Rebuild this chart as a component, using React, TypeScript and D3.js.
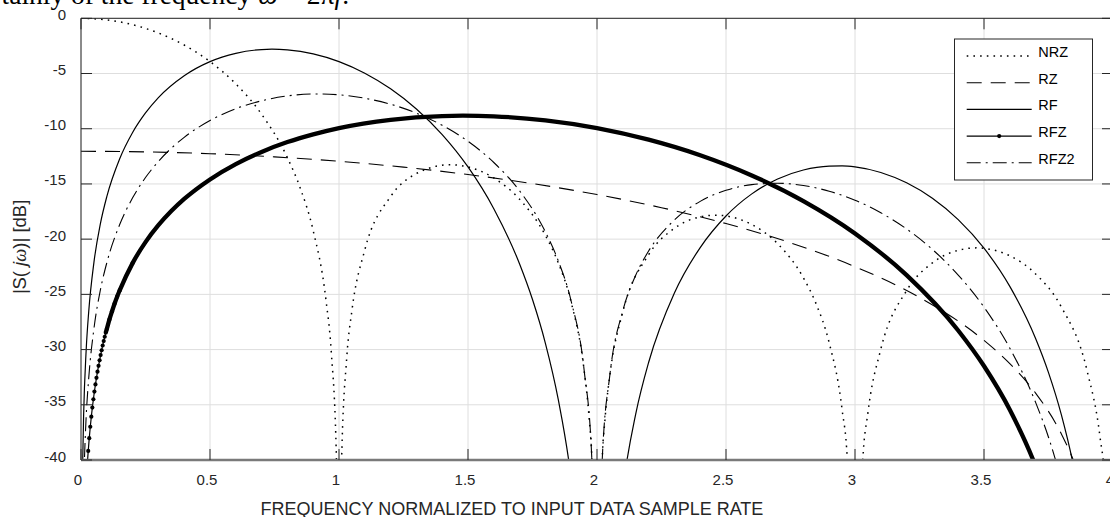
import React from 'react';
import * as d3 from 'd3';

// ---- data (frequency normalized, magnitude in dB) ----
const xTicks = [0, 0.5, 1, 1.5, 2, 2.5, 3, 3.5, 4];
const xTickLabels = ['0', '0.5', '1', '1.5', '2', '2.5', '3', '3.5', '4'];
const yTicks = [0, -5, -10, -15, -20, -25, -30, -35, -40];
const yTickLabels = ['0', '-5', '-10', '-15', '-20', '-25', '-30', '-35', '-40'];
const seriesNames = ['NRZ', 'RZ', 'RF', 'RFZ', 'RFZ2'];

const nrzFreq = [0, 0.1, 0.2, 0.3, 0.4, 0.5, 0.6, 0.7, 0.8, 0.85, 0.9, 0.95, 0.97, 0.99, 1.0, 1.01, 1.03, 1.05, 1.1, 1.2, 1.3, 1.43, 1.5, 1.6, 1.7, 1.8, 1.85, 1.9, 1.95, 1.97, 1.98, 2.0, 2.02, 2.03, 2.05, 2.1, 2.2, 2.3, 2.4, 2.46, 2.6, 2.7, 2.8, 2.85, 2.9, 2.95, 2.97, 3.0, 3.03, 3.05, 3.1, 3.2, 3.3, 3.4, 3.47, 3.6, 3.7, 3.8, 3.9, 3.95, 3.97, 4.0];
const nrzDb = [0, -0.14, -0.58, -1.33, -2.42, -3.92, -5.94, -8.69, -12.62, -15.39, -19.23, -25.61, -30.2, -39.9, -70, -40.1, -30.73, -26.48, -20.97, -16.14, -14.06, -13.26, -13.46, -14.46, -16.39, -19.66, -22.15, -25.72, -31.86, -36.36, -39.9, -70, -40.1, -36.6, -32.29, -26.59, -21.41, -19.02, -17.98, -17.83, -18.68, -20.41, -23.5, -25.9, -29.39, -35.45, -39.92, -70, -40.1, -35.74, -29.97, -24.66, -22.15, -21.01, -20.79, -21.51, -23.15, -26.15, -31.96, -37.99, -42.4, -70];

const rzFreq = [0, 0.25, 0.5, 0.75, 1, 1.25, 1.5, 1.75, 2, 2.25, 2.5, 2.75, 3, 3.25, 3.5, 3.6, 3.7, 3.8, 3.85, 3.9];
const rzDb = [-12.04, -12.1, -12.26, -12.55, -12.95, -13.48, -14.15, -14.97, -15.96, -17.15, -18.59, -20.33, -22.49, -25.28, -29.17, -31.27, -33.94, -37.65, -40.25, -43.87];

const rfFreq = [0.005, 0.01, 0.02, 0.03, 0.05, 0.075, 0.1, 0.15, 0.2, 0.25, 0.3, 0.4, 0.5, 0.6, 0.7, 0.74, 0.8, 0.9, 1.0, 1.1, 1.2, 1.3, 1.4, 1.5, 1.6, 1.7, 1.75, 1.8, 1.85, 1.9, 1.95, 2.0, 2.05, 2.1, 2.15, 2.2, 2.3, 2.4, 2.5, 2.6, 2.7, 2.8, 2.9, 2.95, 3.0, 3.1, 3.2, 3.3, 3.4, 3.5, 3.6, 3.7, 3.75, 3.8, 3.85, 3.9];
const rfDb = [-42.1, -36.08, -30.06, -26.54, -22.12, -18.62, -16.15, -12.72, -10.34, -8.57, -7.18, -5.2, -3.92, -3.17, -2.83, -2.8, -2.86, -3.22, -3.92, -4.97, -6.38, -8.21, -10.53, -13.46, -17.24, -22.25, -25.47, -29.43, -34.54, -41.72, -53.9, -80, -54.4, -42.59, -35.84, -31.17, -24.88, -20.76, -17.9, -15.9, -14.55, -13.74, -13.39, -13.37, -13.46, -13.96, -14.9, -16.3, -18.23, -20.82, -24.28, -29.0, -32.09, -35.92, -40.9, -47.97];

const rfzFreq = [0.016, 0.02, 0.024, 0.028, 0.032, 0.036, 0.04, 0.044, 0.048, 0.052, 0.056, 0.06, 0.064, 0.068, 0.072, 0.076, 0.08, 0.084, 0.088, 0.092, 0.096, 0.1, 0.11, 0.12, 0.13, 0.14, 0.15, 0.2, 0.25, 0.3, 0.35, 0.4, 0.5, 0.6, 0.7, 0.8, 0.9, 1.0, 1.2, 1.4, 1.48, 1.6, 1.8, 2.0, 2.2, 2.4, 2.6, 2.8, 3.0, 3.2, 3.4, 3.5, 3.6, 3.7, 3.8];
const rfzDb = [-44.04, -42.1, -40.52, -39.18, -38.02, -36.99, -36.08, -35.25, -34.5, -33.8, -33.16, -32.56, -32.0, -31.47, -30.97, -30.5, -30.06, -29.63, -29.23, -28.84, -28.47, -28.14, -27.29, -26.55, -25.85, -25.21, -24.64, -22.17, -20.27, -18.74, -17.46, -16.36, -14.59, -13.2, -12.1, -11.21, -10.51, -9.94, -9.19, -8.85, -8.82, -8.88, -9.24, -9.94, -10.99, -12.4, -14.23, -16.55, -19.48, -23.26, -28.27, -31.49, -35.45, -40.56, -47.74];

const rfz2Freq = [0.01, 0.02, 0.03, 0.05, 0.075, 0.1, 0.15, 0.2, 0.25, 0.3, 0.4, 0.5, 0.6, 0.7, 0.8, 0.92, 1.0, 1.1, 1.2, 1.3, 1.4, 1.5, 1.6, 1.7, 1.8, 1.85, 1.9, 1.95, 1.98, 2.0, 2.02, 2.05, 2.1, 2.15, 2.2, 2.3, 2.4, 2.5, 2.6, 2.7, 2.8, 2.9, 3.0, 3.1, 3.2, 3.3, 3.4, 3.5, 3.6, 3.7, 3.75, 3.8];
const rfz2Db = [-42.1, -36.08, -32.56, -28.13, -24.62, -22.14, -18.68, -16.26, -14.42, -12.96, -10.78, -9.26, -8.18, -7.47, -7.03, -6.85, -6.93, -7.24, -7.78, -8.59, -9.69, -11.14, -13.06, -15.63, -19.34, -21.97, -25.63, -31.84, -39.92, -70, -40.09, -32.27, -26.5, -23.27, -21.08, -18.26, -16.58, -15.58, -15.06, -14.94, -15.14, -15.66, -16.47, -17.61, -19.08, -20.93, -23.25, -26.16, -29.87, -34.78, -37.94, -41.83];

const W = 1110;
const H = 517;
const SANS = '"Liberation Sans", Arial, Helvetica, sans-serif';
const SERIF = '"Liberation Serif", "Times New Roman", serif';

const zip = (f: number[], v: number[]): [number, number][] => f.map((t, i) => [t, v[i]]);

export default function App() {
  const x = d3.scaleLinear().domain([0, 4]).range([81, 1113]);
  const y = d3.scaleLinear().domain([-40, 0]).range([460, 18.3]);
  const line = d3
    .line<[number, number]>()
    .x((d) => x(d[0]))
    .y((d) => y(d[1]))
    .curve(d3.curveMonotoneX);

  const nrz = zip(nrzFreq, nrzDb);
  const rz = zip(rzFreq, rzDb);
  const rf = zip(rfFreq, rfDb);
  const rfz = zip(rfzFreq, rfzDb);
  const rfz2 = zip(rfz2Freq, rfz2Db);
  const rfzThick = rfz.filter((d) => d[0] >= 0.096);
  const rfzDots = rfz.filter((d) => d[1] >= -40 && d[0] <= 0.2);

  const [x0, x1] = x.range();
  const [y0, y1] = y.range();
  const tickLen = 11;
  const gridColor = '#dedede';
  const axisColor = '#262626';

  const legX = 954.5;
  const legY = 39;
  const legW = 138;
  const legH = 141;
  const rowY = (i: number) => 56 + i * 26.7;
  const sx0 = 966.7;
  const sx1 = 1031.7;

  const styles: Record<string, { dash?: string; width: number }> = {
    NRZ: { dash: '1.6 5.1', width: 1.5 },
    RZ: { dash: '15 9', width: 1.1 },
    RF: { width: 1.2 },
    RFZ: { width: 1.2 },
    RFZ2: { dash: '14 5 2 5', width: 1.1 },
  };

  return (
    <svg
      width={W}
      height={H}
      style={{ position: 'absolute', left: 0, top: 0, background: '#fff' }}
      fontFamily={SANS}
    >
      <defs>
        <clipPath id="plotClip">
          <rect x={x0} y={y1} width={x1 - x0} height={y0 - y1} />
        </clipPath>
      </defs>
      <rect x={0} y={0} width={W} height={H} fill="#fff" />

      {/* cropped document text above the figure */}
      <text x={349} y={3.5} textAnchor="end" fontFamily={SERIF} fontSize={27.5} fill="#000">
        tainly of the frequency <tspan fontStyle="italic">ω</tspan> = 2π<tspan fontStyle="italic">f</tspan>.
      </text>

      {/* grid */}
      {xTicks.map((t) => (
        <line key={'gx' + t} x1={x(t)} x2={x(t)} y1={y1} y2={y0} stroke={gridColor} strokeWidth={1} />
      ))}
      {yTicks.map((t) => (
        <line key={'gy' + t} x1={x0} x2={x1} y1={y(t)} y2={y(t)} stroke={gridColor} strokeWidth={1} />
      ))}

      {/* curves */}
      <g clipPath="url(#plotClip)" fill="none" stroke="#000">
        <path d={line(nrz) || ''} strokeWidth={styles.NRZ.width} strokeDasharray={styles.NRZ.dash} />
        <path d={line(rz) || ''} strokeWidth={styles.RZ.width} strokeDasharray={styles.RZ.dash} />
        <path d={line(rf) || ''} strokeWidth={styles.RF.width} />
        <path d={line(rfz2) || ''} strokeWidth={styles.RFZ2.width} strokeDasharray={styles.RFZ2.dash} />
        <path d={line(rfz) || ''} strokeWidth={1.2} />
        <path d={line(rfzThick) || ''} strokeWidth={4.3} />
        {rfzDots.map((d, i) => (
          <circle key={'dot' + i} cx={x(d[0])} cy={y(d[1])} r={2.1} fill="#000" stroke="none" />
        ))}
      </g>

      {/* axes box */}
      <line x1={x0} x2={x1} y1={y1} y2={y1} stroke={axisColor} strokeWidth={1} />
      <line x1={x0} x2={x0} y1={y1} y2={y0} stroke={axisColor} strokeWidth={1} />
      <line x1={x1} x2={x1} y1={y1} y2={y0} stroke={axisColor} strokeWidth={1} />
      <line x1={x0} x2={x1} y1={y0} y2={y0} stroke="#7a7a7a" strokeWidth={2.4} />

      {/* ticks */}
      {xTicks.map((t) => (
        <g key={'tx' + t}>
          <line x1={x(t)} x2={x(t)} y1={y0} y2={y0 - tickLen} stroke={axisColor} strokeWidth={1} />
          <line x1={x(t)} x2={x(t)} y1={y1} y2={y1 + tickLen} stroke={axisColor} strokeWidth={1} />
        </g>
      ))}
      {yTicks.map((t) => (
        <g key={'ty' + t}>
          <line x1={x0} x2={x0 + tickLen} y1={y(t)} y2={y(t)} stroke={axisColor} strokeWidth={1} />
          <line x1={x1} x2={x1 - tickLen} y1={y(t)} y2={y(t)} stroke={axisColor} strokeWidth={1} />
        </g>
      ))}

      {/* tick labels */}
      {xTicks.map((t, i) => (
        <text key={'lx' + t} x={x(t) - 3} y={485} textAnchor="middle" fontSize={15} fill="#262626">
          {xTickLabels[i]}
        </text>
      ))}
      {yTicks.map((t, i) => (
        <text key={'ly' + t} x={66} y={y(t) + 1.5} textAnchor="end" fontSize={15} fill="#262626">
          {yTickLabels[i]}
        </text>
      ))}

      {/* axis labels */}
      <text x={512} y={514.5} textAnchor="middle" fontSize={18} fill="#262626">
        FREQUENCY NORMALIZED TO INPUT DATA SAMPLE RATE
      </text>
      <text
        transform="translate(26,247) rotate(-90)"
        textAnchor="middle"
        fontSize={18.5}
        fill="#262626"
      >
        <tspan fontStyle="italic">|</tspan>S( <tspan fontStyle="italic">j</tspan>
        <tspan fontStyle="italic" fontFamily={SERIF}>ω</tspan>)| [dB]
      </text>

      {/* legend */}
      <rect x={legX} y={legY} width={legW} height={legH} fill="#fff" stroke={axisColor} strokeWidth={1} />
      {seriesNames.map((name, i) => {
        const st = styles[name];
        const cy = rowY(i);
        return (
          <g key={'leg' + name}>
            <line
              x1={sx0}
              x2={sx1}
              y1={cy}
              y2={cy}
              stroke="#000"
              strokeWidth={st.width}
              strokeDasharray={st.dash}
            />
            {name === 'RFZ' && <circle cx={(sx0 + sx1) / 2} cy={cy} r={2.1} fill="#000" />}
            <text x={1038.3} y={cy + 1} fontSize={14.5} fill="#000">
              {name}
            </text>
          </g>
        );
      })}
    </svg>
  );
}
